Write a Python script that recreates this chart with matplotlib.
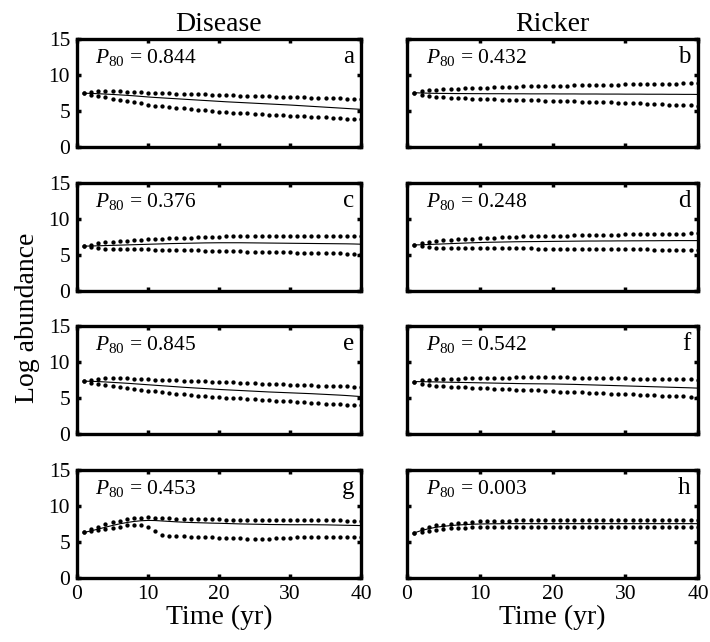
"""
Log abundance projections, Disease vs Ricker models (panels a-h).
"""
import numpy as np
import matplotlib
matplotlib.use("Agg")
import matplotlib.pyplot as plt

# ── Fonts ──────────────────────────────────────────────────────────────────────
plt.rcParams["font.family"] = ["Liberation Serif", "DejaVu Serif"]
plt.rcParams["mathtext.fontset"] = "custom"
plt.rcParams["mathtext.rm"] = "Liberation Serif"
plt.rcParams["mathtext.it"] = "Liberation Serif:italic"

# ── Data ───────────────────────────────────────────────────────────────────────
years = list(range(1, 41))

a_upper = [7.46, 7.65, 7.78, 7.80, 7.78, 7.74, 7.70, 7.66, 7.60, 7.55, 7.52, 7.49, 7.46, 7.43, 7.40, 7.37, 7.33, 7.30, 7.26, 7.22,
           7.19, 7.16, 7.13, 7.10, 7.08, 7.05, 7.02, 6.99, 6.96, 6.94, 6.91, 6.88, 6.86, 6.83, 6.80, 6.78, 6.75, 6.72, 6.70, 6.67]
a_lower = [7.46, 7.25, 7.05, 6.88, 6.72, 6.56, 6.40, 6.24, 6.05, 5.85, 5.75, 5.65, 5.55, 5.45, 5.36, 5.27, 5.18, 5.08, 4.99, 4.90,
           4.84, 4.78, 4.72, 4.66, 4.61, 4.55, 4.50, 4.45, 4.40, 4.35, 4.30, 4.25, 4.20, 4.15, 4.10, 4.05, 4.00, 3.95, 3.90, 3.85]
a_median = [7.46, 7.45, 7.40, 7.35, 7.30, 7.24, 7.18, 7.11, 7.03, 6.95, 6.88, 6.82, 6.76, 6.70, 6.64, 6.58, 6.52, 6.46, 6.40, 6.34,
            6.28, 6.23, 6.18, 6.13, 6.08, 6.03, 5.98, 5.93, 5.88, 5.83, 5.77, 5.71, 5.65, 5.59, 5.53, 5.47, 5.41, 5.35, 5.29, 5.23]

b_upper = [7.54, 7.75, 7.88, 7.95, 8.00, 8.05, 8.10, 8.14, 8.18, 8.22, 8.26, 8.30, 8.33, 8.36, 8.39, 8.42, 8.45, 8.47, 8.49, 8.50,
           8.52, 8.54, 8.56, 8.58, 8.60, 8.62, 8.64, 8.66, 8.68, 8.70, 8.72, 8.73, 8.75, 8.76, 8.78, 8.79, 8.81, 8.82, 8.84, 8.85]
b_lower = [7.54, 7.25, 7.05, 6.95, 6.88, 6.83, 6.79, 6.75, 6.71, 6.68, 6.65, 6.62, 6.59, 6.56, 6.53, 6.51, 6.49, 6.47, 6.45, 6.43,
           6.40, 6.37, 6.34, 6.31, 6.28, 6.25, 6.22, 6.19, 6.16, 6.13, 6.10, 6.06, 6.02, 5.98, 5.94, 5.90, 5.86, 5.82, 5.78, 5.74]
b_median = [7.54, 7.50, 7.47, 7.45, 7.44, 7.43, 7.42, 7.42, 7.41, 7.41, 7.40, 7.40, 7.40, 7.39, 7.39, 7.39, 7.38, 7.38, 7.38, 7.38,
            7.37, 7.37, 7.37, 7.36, 7.36, 7.36, 7.35, 7.35, 7.35, 7.34, 7.34, 7.34, 7.33, 7.33, 7.33, 7.32, 7.32, 7.31, 7.31, 7.30]

c_upper = [6.23, 6.45, 6.62, 6.75, 6.85, 6.93, 7.00, 7.06, 7.12, 7.17, 7.22, 7.27, 7.31, 7.35, 7.39, 7.43, 7.46, 7.50, 7.53, 7.56,
           7.58, 7.60, 7.61, 7.62, 7.62, 7.62, 7.62, 7.62, 7.62, 7.61, 7.61, 7.61, 7.60, 7.60, 7.60, 7.60, 7.60, 7.60, 7.60, 7.60]
c_lower = [6.23, 6.05, 5.95, 5.90, 5.88, 5.86, 5.84, 5.82, 5.80, 5.78, 5.76, 5.74, 5.72, 5.70, 5.68, 5.66, 5.64, 5.61, 5.58, 5.55,
           5.53, 5.51, 5.49, 5.47, 5.45, 5.43, 5.41, 5.39, 5.37, 5.35, 5.33, 5.31, 5.29, 5.27, 5.25, 5.23, 5.21, 5.19, 5.16, 5.14]
c_median = [6.23, 6.25, 6.28, 6.31, 6.34, 6.37, 6.40, 6.43, 6.46, 6.49, 6.52, 6.55, 6.58, 6.60, 6.62, 6.64, 6.66, 6.68, 6.69, 6.70,
            6.70, 6.70, 6.70, 6.69, 6.68, 6.67, 6.66, 6.65, 6.64, 6.63, 6.62, 6.61, 6.60, 6.59, 6.58, 6.57, 6.56, 6.55, 6.53, 6.50]

d_upper = [6.40, 6.65, 6.82, 6.93, 7.02, 7.10, 7.17, 7.23, 7.29, 7.34, 7.39, 7.43, 7.47, 7.51, 7.55, 7.58, 7.61, 7.63, 7.65, 7.66,
           7.68, 7.70, 7.72, 7.74, 7.76, 7.78, 7.80, 7.82, 7.84, 7.86, 7.88, 7.89, 7.91, 7.92, 7.94, 7.95, 7.96, 7.97, 7.99, 8.00]
d_lower = [6.40, 6.20, 6.08, 6.03, 6.00, 5.98, 5.97, 5.96, 5.95, 5.94, 5.93, 5.93, 5.92, 5.92, 5.91, 5.91, 5.91, 5.90, 5.90, 5.90,
           5.89, 5.88, 5.87, 5.86, 5.85, 5.84, 5.83, 5.82, 5.81, 5.80, 5.79, 5.78, 5.77, 5.76, 5.75, 5.74, 5.73, 5.72, 5.71, 5.70]
d_median = [6.40, 6.42, 6.46, 6.50, 6.54, 6.58, 6.62, 6.66, 6.70, 6.73, 6.76, 6.78, 6.80, 6.82, 6.84, 6.85, 6.86, 6.87, 6.88, 6.89,
            6.90, 6.91, 6.92, 6.93, 6.94, 6.94, 6.95, 6.95, 6.96, 6.96, 6.97, 6.97, 6.98, 6.98, 6.99, 6.99, 7.00, 7.00, 7.00, 7.00]

e_upper = [7.33, 7.55, 7.70, 7.75, 7.76, 7.75, 7.72, 7.68, 7.64, 7.60, 7.56, 7.52, 7.48, 7.44, 7.40, 7.37, 7.33, 7.30, 7.26, 7.23,
           7.19, 7.16, 7.12, 7.09, 7.05, 7.01, 6.98, 6.94, 6.90, 6.87, 6.83, 6.80, 6.76, 6.73, 6.70, 6.67, 6.63, 6.60, 6.57, 6.54]
e_lower = [7.33, 7.10, 6.90, 6.75, 6.62, 6.50, 6.38, 6.26, 6.14, 6.02, 5.91, 5.80, 5.70, 5.60, 5.51, 5.42, 5.34, 5.26, 5.19, 5.12,
           5.06, 5.00, 4.94, 4.88, 4.82, 4.76, 4.70, 4.64, 4.58, 4.52, 4.46, 4.40, 4.34, 4.28, 4.22, 4.17, 4.12, 4.07, 4.02, 3.96]
e_median = [7.33, 7.32, 7.28, 7.23, 7.17, 7.11, 7.05, 6.98, 6.91, 6.84, 6.77, 6.70, 6.63, 6.56, 6.49, 6.43, 6.37, 6.31, 6.25, 6.19,
            6.14, 6.09, 6.04, 5.99, 5.94, 5.89, 5.84, 5.80, 5.76, 5.72, 5.68, 5.64, 5.60, 5.55, 5.50, 5.45, 5.40, 5.34, 5.27, 5.20]

f_upper = [7.28, 7.45, 7.55, 7.60, 7.63, 7.66, 7.69, 7.72, 7.74, 7.76, 7.78, 7.80, 7.82, 7.84, 7.85, 7.86, 7.87, 7.87, 7.87, 7.87,
           7.86, 7.85, 7.84, 7.83, 7.82, 7.80, 7.78, 7.76, 7.74, 7.72, 7.70, 7.68, 7.66, 7.64, 7.62, 7.61, 7.60, 7.59, 7.57, 7.55]
f_lower = [7.28, 7.00, 6.85, 6.72, 6.64, 6.58, 6.52, 6.47, 6.42, 6.37, 6.33, 6.29, 6.25, 6.21, 6.17, 6.13, 6.09, 6.05, 6.00, 5.95,
           5.90, 5.86, 5.82, 5.78, 5.74, 5.70, 5.66, 5.62, 5.58, 5.54, 5.50, 5.46, 5.42, 5.38, 5.34, 5.30, 5.26, 5.22, 5.18, 5.14]
f_median = [7.28, 7.27, 7.25, 7.23, 7.21, 7.19, 7.17, 7.15, 7.13, 7.11, 7.09, 7.07, 7.05, 7.03, 7.01, 6.99, 6.98, 6.97, 6.96, 6.95,
            6.93, 6.91, 6.89, 6.86, 6.83, 6.80, 6.77, 6.74, 6.71, 6.68, 6.65, 6.62, 6.59, 6.56, 6.53, 6.50, 6.47, 6.44, 6.41, 6.37]

g_upper = [6.33, 6.80, 7.15, 7.46, 7.75, 7.95, 8.15, 8.30, 8.40, 8.42, 8.38, 8.32, 8.28, 8.24, 8.20, 8.18, 8.16, 8.15, 8.14, 8.13,
           8.12, 8.10, 8.08, 8.05, 8.02, 8.00, 8.00, 8.00, 8.02, 8.04, 8.06, 8.08, 8.10, 8.10, 8.10, 8.05, 8.00, 7.95, 7.92, 7.90]
g_lower = [6.33, 6.46, 6.60, 6.75, 6.95, 7.15, 7.30, 7.42, 7.40, 7.10, 6.50, 6.00, 5.85, 5.80, 5.78, 5.76, 5.72, 5.68, 5.64, 5.60,
           5.56, 5.52, 5.50, 5.48, 5.47, 5.47, 5.48, 5.50, 5.55, 5.62, 5.66, 5.70, 5.72, 5.73, 5.73, 5.72, 5.70, 5.68, 5.66, 5.65]
g_median = [6.33, 6.55, 6.80, 7.05, 7.30, 7.52, 7.70, 7.85, 7.95, 8.00, 7.98, 7.92, 7.86, 7.80, 7.75, 7.71, 7.68, 7.65, 7.62, 7.60,
            7.57, 7.54, 7.51, 7.49, 7.47, 7.45, 7.43, 7.42, 7.41, 7.40, 7.40, 7.40, 7.40, 7.39, 7.38, 7.36, 7.34, 7.32, 7.30, 7.28]

h_upper = [6.27, 6.86, 7.10, 7.30, 7.42, 7.50, 7.60, 7.70, 7.78, 7.86, 7.90, 7.94, 7.96, 7.98, 8.00, 8.00, 8.00, 8.01, 8.00, 8.00,
           8.00, 8.01, 8.00, 8.00, 8.00, 8.01, 8.00, 8.00, 8.00, 8.01, 8.00, 8.00, 8.00, 8.01, 8.00, 8.00, 8.00, 8.01, 8.00, 8.00]
h_lower = [6.27, 6.40, 6.55, 6.70, 6.80, 6.88, 6.95, 7.00, 7.03, 7.05, 7.07, 7.08, 7.09, 7.10, 7.10, 7.10, 7.10, 7.10, 7.10, 7.10,
           7.10, 7.10, 7.10, 7.10, 7.10, 7.10, 7.10, 7.10, 7.10, 7.10, 7.10, 7.10, 7.10, 7.10, 7.10, 7.10, 7.10, 7.10, 7.10, 7.10]
h_median = [6.27, 6.60, 6.85, 7.05, 7.18, 7.28, 7.36, 7.42, 7.47, 7.50, 7.52, 7.53, 7.54, 7.55, 7.55, 7.55, 7.55, 7.55, 7.55, 7.55,
            7.55, 7.55, 7.55, 7.55, 7.55, 7.55, 7.55, 7.55, 7.55, 7.55, 7.55, 7.55, 7.55, 7.55, 7.55, 7.55, 7.55, 7.55, 7.55, 7.55]

panel_letters = ["a", "b", "c", "d", "e", "f", "g", "h"]
p80_values = ["0.844", "0.432", "0.376", "0.248", "0.845", "0.542", "0.453", "0.003"]
uppers  = [a_upper, b_upper, c_upper, d_upper, e_upper, f_upper, g_upper, h_upper]
lowers  = [a_lower, b_lower, c_lower, d_lower, e_lower, f_lower, g_lower, h_lower]
medians = [a_median, b_median, c_median, d_median, e_median, f_median, g_median, h_median]
col_titles = ["Disease", "Ricker"]

# ── Layout (pixel-based, 710 x 642) ────────────────────────────────────────────
W, H, DPI = 710, 642, 100
col_x = [(77, 284), (407, 291)]
row_top = [39, 183, 326, 470]
ROW_H = 108

fig = plt.figure(figsize=(W / DPI, H / DPI), dpi=DPI, facecolor="white")

for i in range(8):
    r, c = divmod(i, 2)
    x0, w = col_x[c]
    ax = fig.add_axes([x0 / W, 1 - (row_top[r] + ROW_H) / H, w / W, ROW_H / H])

    ax.plot(years, medians[i], color="black", lw=0.8, zorder=2)
    ax.plot(years, uppers[i], "o", color="black", ms=3.1, mew=0, zorder=3)
    ax.plot(years, lowers[i], "o", color="black", ms=3.1, mew=0, zorder=3)

    ax.set_xlim(0, 40)
    ax.set_ylim(0, 15)
    ax.set_xticks([0, 10, 20, 30, 40])
    ax.set_yticks([0, 5, 10, 15])
    ax.tick_params(direction="in", length=3, width=2.5, top=True, right=True,
                   labelsize=15.5, pad=5)
    for s in ax.spines.values():
        s.set_linewidth(2.4)
    if c == 1:
        ax.set_yticklabels([])
    if r < 3:
        ax.set_xticklabels([])
    else:
        ax.set_xlabel("Time (yr)", fontsize=20, labelpad=1)
    if r == 0:
        ax.set_title(col_titles[c], fontsize=20, pad=6)

    ax.text(0.065, 0.83, r"$P_{80}$ = " + p80_values[i], transform=ax.transAxes,
            fontsize=15.5, ha="left", va="center")
    ax.text(0.975, 0.83, panel_letters[i], transform=ax.transAxes,
            fontsize=18, ha="right", va="center")

fig.text(28 / W, 1 - 318 / H, "Log abundance", rotation=90, fontsize=20,
         ha="center", va="center")

fig.savefig("out.png", dpi=DPI, facecolor="white")
